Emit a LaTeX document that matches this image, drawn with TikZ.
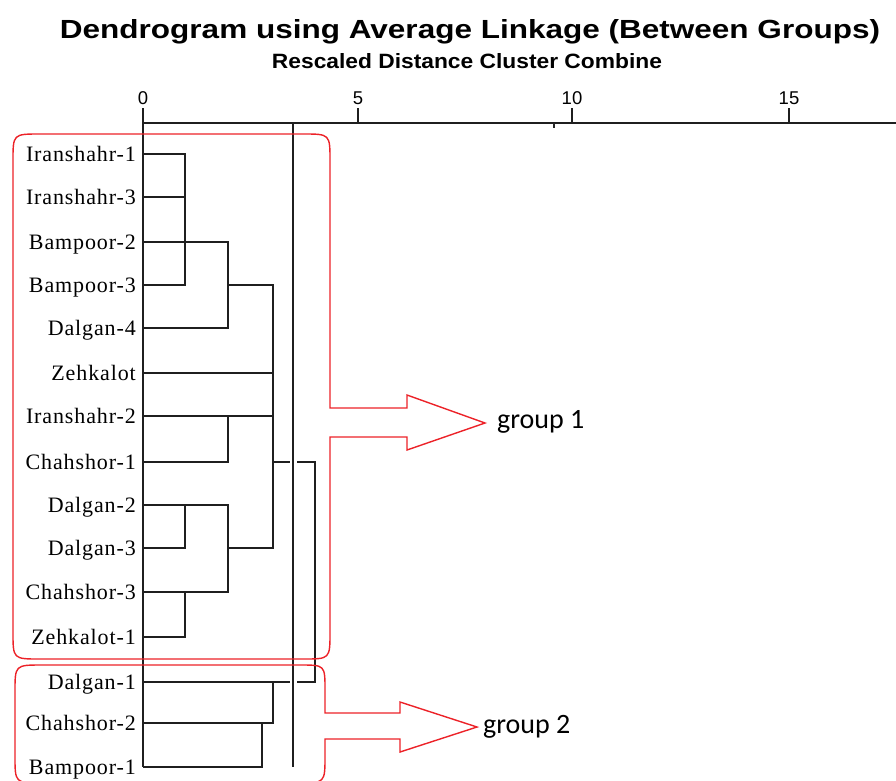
\documentclass[tikz,border=0pt]{standalone}
\usepackage{fontspec}
\setmainfont{Liberation Serif}
\newfontfamily\leaffont[LetterSpace=4]{Liberation Serif}
\newfontfamily\sansfnt{Liberation Sans}
\newfontfamily\grpfont{Carlito}
\definecolor{grpred}{RGB}{236,34,40}
\begin{document}
\begin{tikzpicture}[x=1pt,y=-1pt,
  dend/.style={line width=2pt, black!88, line join=miter},
  grpline/.style={line width=1.4pt, grpred, line join=miter},
  leaf/.style={anchor=base east, inner sep=0pt, font=\leaffont\fontsize{22}{22}\selectfont},
  ticklab/.style={anchor=base, inner sep=0pt, font=\sansfnt\fontsize{18.5}{18.5}\selectfont},
  grp/.style={anchor=base west, inner sep=0pt, font=\grpfont\fontsize{28}{28}\selectfont}]
\useasboundingbox (0,0) rectangle (896,780);
\clip (0,0) rectangle (896,780);

% titles
\node[anchor=base, inner sep=0pt] (title) at (470,38)
  {\resizebox{820pt}{19pt}{\sansfnt\bfseries Dendrogram using Average Linkage (Between Groups)}};
\node[anchor=base, inner sep=0pt] (subtitle) at (467,68)
  {\resizebox{390pt}{15pt}{\sansfnt\bfseries Rescaled Distance Cluster Combine}};

% axis
\coordinate (a0) at (143,123);
\coordinate (a5) at (358,123);
\coordinate (a10) at (572,123);
\coordinate (a15) at (789,123);
\coordinate (aend) at (896,123);
\draw[dend] (a0) -- (aend);
\foreach \t in {a0,a5,a10,a15} { \draw[dend] (\t) -- ++(0,-15); }
\node[ticklab] (t0) at (143,104) {0};
\node[ticklab] (t5) at (358,104) {5};
\node[ticklab] (t10) at (572,104) {10};
\node[ticklab] (t15) at (789,104) {15};
\coordinate (sm) at (554,123);
\draw[line width=1.2pt, black!85] (sm) -- ++(0,5);

% leaves
\foreach \n/\name/\y in {1/Iranshahr-1/154, 2/Iranshahr-3/197, 3/Bampoor-2/242, 4/Bampoor-3/285,
  5/Dalgan-4/328, 6/Zehkalot/373, 7/Iranshahr-2/416, 8/Chahshor-1/462, 9/Dalgan-2/505,
  10/Dalgan-3/548, 11/Chahshor-3/592, 12/Zehkalot-1/637, 13/Dalgan-1/682, 14/Chahshor-2/723,
  15/Bampoor-1/767} {
  \node[leaf] (l\n) at (136,\y+7) {\name};
  \coordinate (p\n) at (143,\y);
}

% dendrogram
\draw[dend] (a0) -- (p15);
\draw[dend]
  (p1) -- (185,154) -- (185,285) -- (p4)
  (p2) -- (185,197)
  (p3) -- (228,242) -- (228,328) -- (p5)
  (228,285) -- (273,285) -- (273,548) -- (228,548)
  (p6) -- (273,373)
  (p7) -- (273,416)
  (228,416) -- (228,462) -- (p8)
  (p9) -- (228,505) -- (228,592) -- (p11)
  (185,505) -- (185,548) -- (p10)
  (185,592) -- (185,637) -- (p12)
  (273,462) -- (290,462)
  (297,462) -- (315,462) -- (315,682) -- (297,682)
  (290,682) -- (273,682)
  (p13) -- (273,682) -- (273,723) -- (p14)
  (p15) -- (262,767) -- (262,723);

% threshold line
\coordinate (th0) at (293,123);
\coordinate (th1) at (293,767);
\draw[dend] (th0) -- (th1);

% group outlines with arrows
\draw[grpline] (330,408) -- (330,161) .. controls (330,134) .. (303,134) -- (40,134)
  .. controls (13,134) .. (13,161) -- (13,632) .. controls (13,659) .. (40,659) -- (303,659)
  .. controls (330,659) .. (330,632) -- (330,437) -- (407,437) -- (407,450) -- (485,423)
  -- (407,395) -- (407,408) -- cycle;
\draw[grpline] (325,713) -- (325,690) .. controls (325,665) .. (300,665) -- (42,665)
  .. controls (15,665) .. (15,692) -- (15,756) .. controls (15,783) .. (42,783) -- (298,783)
  .. controls (325,783) .. (325,756) -- (325,739) -- (400,739) -- (400,752) -- (477,727)
  -- (400,702) -- (400,713) -- cycle;

\node[grp] (g1) at (497,428) {group 1};
\node[grp] (g2) at (483,733) {group 2};
\end{tikzpicture}
\end{document}
